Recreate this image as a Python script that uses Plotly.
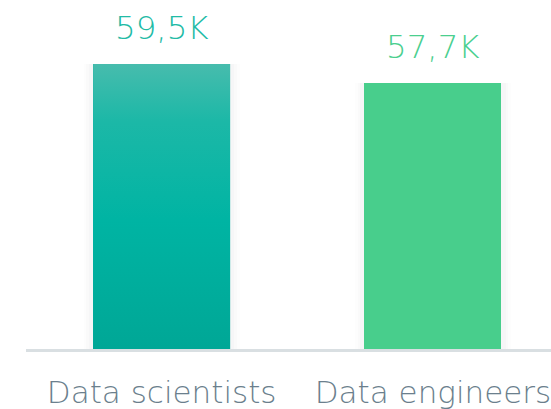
import plotly.graph_objects as go

categories = ["Data scientists", "Data engineers"]
values = [59.5, 57.7]
value_labels = ["59,5K", "57,7K"]
bar_colors = ["#00B3A2", "#48CE8C"]
label_colors = ["#22BBA6", "#4BCF8F"]

W = 0.505
xs = list(range(len(categories)))

fig = go.Figure()

# soft shadow
for k, a in [(0.07, 0.012), (0.05, 0.015), (0.03, 0.02)]:
    fig.add_trace(go.Bar(x=xs, y=values, width=W + k, marker_color=f"rgba(60,70,80,{a})",
                         marker_line_width=0, hoverinfo="skip", showlegend=False))

fig.add_trace(go.Bar(x=xs, y=values, width=W, marker_color=bar_colors,
                     marker_line_width=0, showlegend=False))

# gradient overlay for first bar
i = 0
base = 32.5
fig.add_trace(go.Scatter(
    x=[xs[i] - W / 2, xs[i] + W / 2, xs[i] + W / 2, xs[i] - W / 2, xs[i] - W / 2],
    y=[base, base, values[i], values[i], base],
    mode="lines", line=dict(width=0), fill="toself",
    fillgradient=dict(type="vertical",
                      colorscale=[[0, "#00A796"], [0.45, "#00B4A3"], [0.8, "#1CB8A7"], [1, "#47BCAD"]]),
    hoverinfo="skip", showlegend=False))

for x, v, t, c in zip(xs, values, value_labels, label_colors):
    fig.add_annotation(x=x, y=v, text=t, showarrow=False, yanchor="bottom", yshift=15,
                       font=dict(family="DejaVu Sans", size=32.5, color=c, weight=200))

fig.update_layout(
    width=551, height=409,
    margin=dict(l=26, r=0, t=0, b=60),
    paper_bgcolor="white", plot_bgcolor="white",
    barmode="overlay", bargap=0,
    xaxis=dict(range=[-0.5, 1.435], tickvals=xs, ticktext=categories,
               showgrid=False, zeroline=False, showline=True, linecolor="#D9DFE2", linewidth=3,
               ticks="outside", ticklen=14, tickcolor="rgba(0,0,0,0)",
               tickfont=dict(family="DejaVu Sans", size=31, color="#6B7F8D", weight=200),
               ticklabeloverflow="allow", automargin=False),
    yaxis=dict(range=[32.5, 65.56], visible=False, showgrid=False, zeroline=False),
)

fig.write_html("out.html", config={"displayModeBar": False},
               post_script="document.body.style.margin='0';")
